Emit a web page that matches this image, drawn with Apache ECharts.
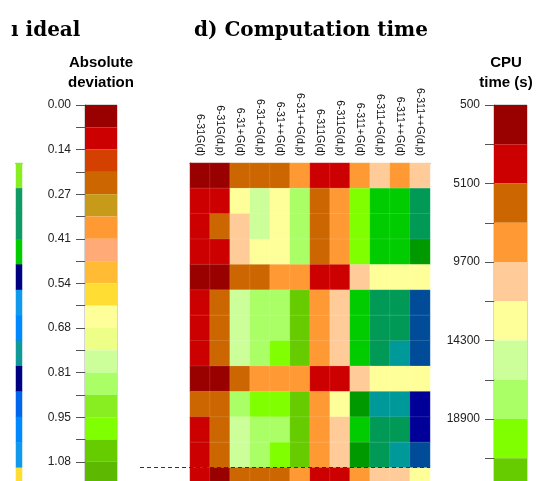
<!DOCTYPE html>
<html><head><meta charset="utf-8">
<script src="https://cdn.jsdelivr.net/npm/echarts@6/dist/echarts.min.js"></script>
<style>html,body{margin:0;padding:0;background:#fff}#c{width:541px;height:481px}</style>
</head><body><div id="c"></div>
<script>
// ---- categories ----
const basisSets = ['6-31G(d)','6-31G(d,p)','6-31+G(d)','6-31+G(d,p)','6-31++G(d)','6-31++G(d,p)',
  '6-311G(d)','6-311G(d,p)','6-311+G(d)','6-311+G(d,p)','6-311++G(d)','6-311++G(d,p)'];
const rowNames = ['R1','R2','R3','R4','R5','R6','R7','R8','R9','R10','R11','R12','R13'];

// ---- CPU time (s), estimated from the colour bands ----
const cpuRow1  = [1650,1650,6250,6250,6250,8550,3950,3950,8550,10850,8550,10850];
const cpuRow2  = [3950,3950,13150,15450,13150,17750,6250,8550,20050,24650,24650,29250];
const cpuRow3  = [3950,6250,10850,15450,13150,17750,6250,8550,20050,24650,24650,29250];
const cpuRow4  = [3950,3950,10850,13150,13150,17750,6250,8550,20050,24650,24650,26950];
const cpuRow5  = [1650,1650,6250,6250,8550,8550,3950,3950,10850,13150,13150,13150];
const cpuRow6  = [3950,6250,15450,17750,17750,22350,8550,10850,24650,29250,29250,33850];
const cpuRow7  = [3950,6250,15450,17750,17750,22350,8550,10850,24650,29250,29250,33850];
const cpuRow8  = [3950,6250,15450,17750,20050,22350,8550,10850,24650,29250,31550,33850];
const cpuRow9  = [1650,1650,6250,8550,8550,8550,3950,3950,10850,13150,13150,13150];
const cpuRow10 = [6250,6250,17750,20050,20050,22350,8550,13150,26950,31550,31550,36150];
const cpuRow11 = [3950,6250,15450,17750,17750,22350,8550,10850,24650,29250,29250,36150];
const cpuRow12 = [3950,6250,15450,17750,20050,22350,8550,10850,26950,29250,31550,33850];
const cpuRow13 = [3950,1650,6250,6250,6250,8550,3950,3950,8550,10850,10850,13150];
const cpuRows = [cpuRow1,cpuRow2,cpuRow3,cpuRow4,cpuRow5,cpuRow6,cpuRow7,cpuRow8,cpuRow9,cpuRow10,cpuRow11,cpuRow12,cpuRow13];

const cpuBreaks = [500,2800,5100,7400,9700,12000,14300,16600,18900,21200,23500,25800,28100,30400,32700,35000,37300];
const cpuColors = ['#990000','#cc0000','#cc6600','#ff9933','#ffcc99','#ffff99','#ccff99','#aaff66',
  '#80ff00','#66cc00','#00cc00','#009900','#009955','#009999','#004c99','#000099'];
const cpuTickLabels = ['500','5100','9700','14300','18900','23500','28100','32700','37300'];

// ---- absolute deviation (previous panel, last visible column) ----
const devLastCol = [0.91,1.25,1.25,1.18,1.60,1.38,1.45,1.32,1.60,1.52,1.45,1.38,0.57];
const devBreaks = [0,0.0675,0.135,0.2025,0.27,0.3375,0.405,0.4725,0.54,0.6075,0.675,0.7425,0.81,
  0.8775,0.945,1.0125,1.08,1.1475,1.215,1.2825,1.35,1.4175,1.485,1.5525,1.62];
const devColors = ['#990000','#cc0000','#d44000','#cc6600','#c89a1a','#ff9933','#ffaa77','#ffbb33',
  '#ffdd33','#ffff99','#eeff88','#ccff99','#aaff66','#88ee22','#80ff00','#66cc00','#5cb800',
  '#00cc00','#119966','#119999','#1199ee','#0088ff','#0066ee','#000080'];
const devTickLabels = ['0.00','0.14','0.27','0.41','0.54','0.68','0.81','0.95','1.08','1.22','1.35','1.49','1.62'];

// ---- build ----
const heatData = [];
cpuRows.forEach((row, r) => row.forEach((v, c) => heatData.push([c, r, v])));
const devData = devLastCol.map((v, r) => [0, r, v]);
const cpuPieces = cpuColors.map((col, i) => ({gte: cpuBreaks[i], lt: cpuBreaks[i+1], color: col}));
const devPieces = devColors.map((col, i) => ({gte: devBreaks[i], lt: devBreaks[i+1], color: col}));
const cpuBand = cpuColors.map((c, i) => [i, i+1]);
const devBand = devColors.map((c, i) => [i, i+1]);

function bandRender(colors) {
  return function (params, api) {
    const a = api.coord([0, api.value(0)]);
    const b = api.coord([1, api.value(1)]);
    return {type: 'rect',
      shape: {x: Math.min(a[0], b[0]), y: Math.min(a[1], b[1]),
              width: Math.abs(b[0] - a[0]), height: Math.abs(b[1] - a[1])},
      style: {fill: colors[params.dataIndex]}};
  };
}

const FONT = '"Liberation Sans", Arial, sans-serif';
const rowH = 25.4, devH = 22.3, cpuH = 39.25;
const axisCol = '#444';
const G = {outerBoundsMode: 'none', containLabel: false};

const chart = echarts.init(document.getElementById('c'), null, {renderer: 'canvas'});
chart.setOption({
  animation: false,
  backgroundColor: '#ffffff',
  textStyle: {fontFamily: FONT},
  grid: [
    Object.assign({left: 190, top: 163, width: 240, height: rowH * rowNames.length}, G),
    Object.assign({left: 85, top: 105, width: 32, height: devH * devColors.length, show: true, borderColor: '#777', borderWidth: 0.6}, G),
    Object.assign({left: 494, top: 105, width: 33, height: cpuH * cpuColors.length, show: true, borderColor: '#777', borderWidth: 0.6}, G),
    Object.assign({left: 16, top: 163, width: 6, height: rowH * rowNames.length}, G)
  ],
  xAxis: [
    {type: 'category', gridIndex: 0, data: basisSets, position: 'top',
     axisLine: {lineStyle: {color: axisCol, width: 1}},
     axisTick: {length: 5, lineStyle: {color: axisCol}},
     axisLabel: {rotate: 90, interval: 0, fontSize: 10.5, color: '#111', margin: 7, fontFamily: FONT},
     splitLine: {show: false}},
    {type: 'value', gridIndex: 1, min: 0, max: 1, show: false},
    {type: 'value', gridIndex: 2, min: 0, max: 1, show: false},
    {type: 'category', gridIndex: 3, data: ['c'], position: 'top',
     axisLine: {lineStyle: {color: axisCol}}, axisTick: {length: 5, lineStyle: {color: axisCol}},
     axisLabel: {show: false}}
  ],
  yAxis: [
    {type: 'category', gridIndex: 0, data: rowNames, inverse: true,
     axisLine: {lineStyle: {color: axisCol}},
     axisTick: {length: 7, lineStyle: {color: axisCol}},
     axisLabel: {show: false}, splitLine: {show: false}},
    {type: 'value', gridIndex: 1, min: 0, max: devColors.length, interval: 1, inverse: true,
     axisLine: {show: true, lineStyle: {color: '#666'}},
     axisTick: {show: true, length: 9, lineStyle: {color: '#555'}},
     axisLabel: {fontSize: 12, color: '#222', margin: 14, fontFamily: FONT,
       formatter: v => (v % 2 === 0 ? devTickLabels[v / 2] : '')},
     splitLine: {show: false}},
    {type: 'value', gridIndex: 2, min: 0, max: cpuColors.length, interval: 1, inverse: true,
     axisLine: {show: true, lineStyle: {color: '#666'}},
     axisTick: {show: true, length: 9, lineStyle: {color: '#555'}},
     axisLabel: {fontSize: 12, color: '#222', margin: 14, fontFamily: FONT,
       formatter: v => (v % 2 === 0 ? cpuTickLabels[v / 2] : '')},
     splitLine: {show: false}},
    {type: 'category', gridIndex: 3, data: rowNames, inverse: true,
     axisLine: {show: false},
     axisTick: {inside: true, alignWithLabel: true, length: 2, lineStyle: {color: '#333'}},
     axisLabel: {show: false}}
  ],
  visualMap: [
    {type: 'piecewise', show: false, seriesIndex: 0, dimension: 2, pieces: cpuPieces},
    {type: 'piecewise', show: false, seriesIndex: 3, dimension: 2, pieces: devPieces}
  ],
  series: [
    {type: 'heatmap', xAxisIndex: 0, yAxisIndex: 0, data: heatData,
     itemStyle: {borderColor: 'rgba(255,255,255,0.12)', borderWidth: 1},
     emphasis: {disabled: true}},
    {type: 'custom', xAxisIndex: 1, yAxisIndex: 1, data: devBand, renderItem: bandRender(devColors),
     encode: {y: [0, 1]}, silent: true},
    {type: 'custom', xAxisIndex: 2, yAxisIndex: 2, data: cpuBand, renderItem: bandRender(cpuColors),
     encode: {y: [0, 1]}, silent: true},
    {type: 'heatmap', xAxisIndex: 3, yAxisIndex: 3, data: devData, emphasis: {disabled: true}}
  ],
  graphic: [
    {type: 'text', x: 11, y: 31, style: {text: 'ı ideal', textAlign: 'left', textVerticalAlign: 'middle',
      font: 'bold 20px "DejaVu Serif"', fill: '#000'}},
    {type: 'text', x: 194, y: 31, style: {text: 'd) Computation time', textAlign: 'left', textVerticalAlign: 'middle',
      font: 'bold 20px "DejaVu Serif"', fill: '#000'}},
    {type: 'text', x: 101, y: 63, style: {text: 'Absolute', textAlign: 'center', textVerticalAlign: 'middle',
      font: 'bold 15px "Liberation Sans"', fill: '#000'}},
    {type: 'text', x: 101, y: 83, style: {text: 'deviation', textAlign: 'center', textVerticalAlign: 'middle',
      font: 'bold 15px "Liberation Sans"', fill: '#000'}},
    {type: 'text', x: 506, y: 63, style: {text: 'CPU', textAlign: 'center', textVerticalAlign: 'middle',
      font: 'bold 15px "Liberation Sans"', fill: '#000'}},
    {type: 'text', x: 506, y: 83, style: {text: 'time (s)', textAlign: 'center', textVerticalAlign: 'middle',
      font: 'bold 15px "Liberation Sans"', fill: '#000'}},
    {type: 'line', z: 100, shape: {x1: 140, y1: 467.5, x2: 430, y2: 467.5},
     style: {stroke: '#333', lineWidth: 1, lineDash: [4, 3]}}
  ]
});
</script></body></html>
